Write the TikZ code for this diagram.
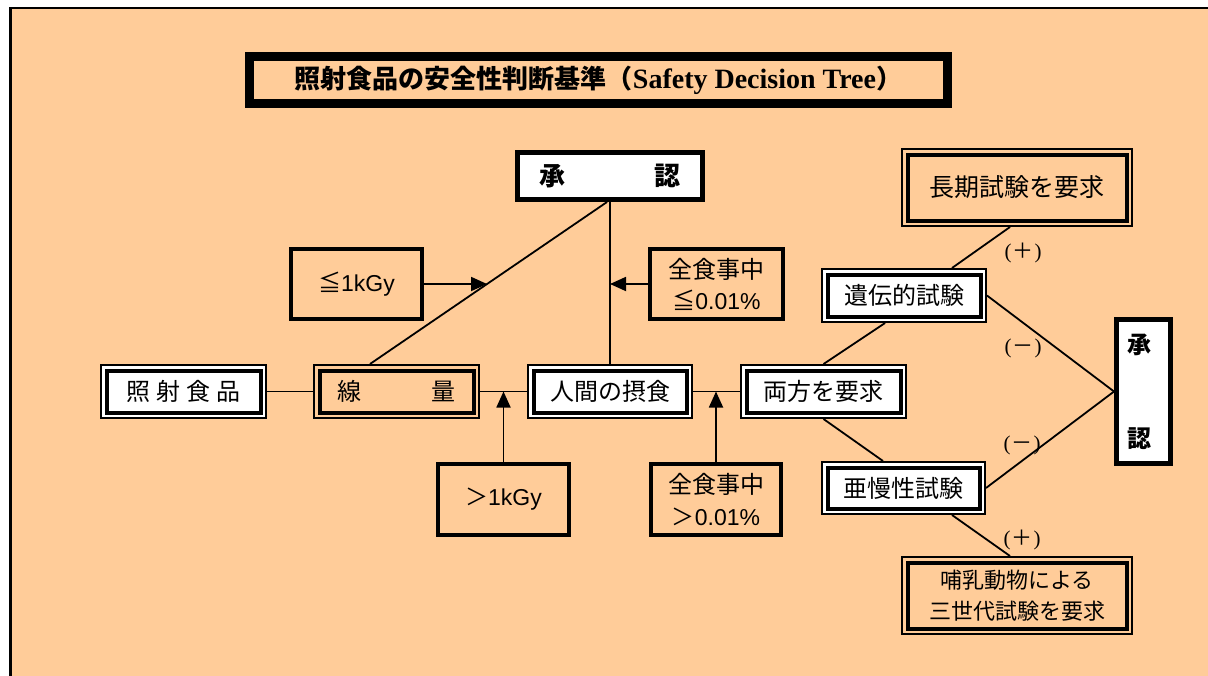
\documentclass[tikz,border=0pt]{standalone}
\usepackage{fontspec}
\setmainfont{Liberation Serif}
\newfontfamily\jp{Noto Sans CJK JP}
\newfontfamily\ar{Liberation Sans}
\usetikzlibrary{arrows.meta,calc}
\definecolor{bgor}{HTML}{FFCC99}
\newcommand\fsz[2]{\fontsize{#1}{#2}\selectfont}
\begin{document}
\begin{tikzpicture}[x=1pt,y=-1pt,
  dbl/.style={draw, line width=2pt, inner sep=0pt, align=center},
  thk/.style={draw, line width=4pt, inner sep=0pt, align=center, fill=bgor},
  conn/.style={line width=1.8pt},
  arr/.style={line width=1.8pt, -{Triangle[length=16pt,width=14pt]}},
  sign/.style={inner sep=0pt, font=\fsz{21}{24}}
]
\useasboundingbox (0,0) rectangle (1208,675);
% background
\fill[bgor] (10.5,8) rectangle (1215,680);
\draw[line width=2.5pt] (10.5,680) -- (10.5,8) -- (1215,8);

% title
\node[draw, line width=9pt, fill=bgor, inner sep=0pt, minimum width=698pt, minimum height=47pt] (title) at (598.5,80)
  {{\jp\bfseries\fsz{26}{30}照射食品の安全性判断基準（}{\bfseries\fsz{28}{30}Safety Decision Tree}{\jp\bfseries\fsz{26}{30}）}};

% double-bordered boxes
\node[dbl, fill=white, minimum width=165pt, minimum height=53pt, font=\jp\fsz{24}{28}] (shokuhin) at (183.5,391.5)
  {照\hspace{6pt}射\hspace{6pt}食\hspace{6pt}品};
\node[dbl, fill=bgor, minimum width=165pt, minimum height=53pt, font=\jp\fsz{24}{28}] (senryo) at (396.5,391.5)
  {線\hspace{71pt}量};
\node[dbl, fill=white, minimum width=164pt, minimum height=53pt, font=\jp\fsz{24}{28}] (ningen) at (610,391.5)
  {人間の摂食};
\node[dbl, fill=white, minimum width=165pt, minimum height=53pt, font=\jp\fsz{24}{28}] (ryoho) at (823.5,391.5)
  {両方を要求};
\node[dbl, fill=white, minimum width=164pt, minimum height=53pt, font=\jp\fsz{24}{28}] (iden) at (904,295.5)
  {遺伝的試験};
\node[dbl, fill=bgor, minimum width=230pt, minimum height=77pt, font=\jp\fsz{25}{28}] (chouki) at (1017,187.5)
  {\raisebox{-4pt}{長期試験を要求}};
\node[dbl, fill=white, minimum width=163pt, minimum height=52pt, font=\jp\fsz{24}{28}] (amansei) at (903.5,488)
  {亜慢性試験};
\node[dbl, fill=bgor, minimum width=230pt, minimum height=77pt, font=\jp\fsz{22}{31}] (honyu) at (1017,595.5)
  {哺乳動物による\\三世代試験を要求};
\foreach \n in {shokuhin,senryo,ningen,ryoho,iden,chouki,amansei,honyu}
  \draw[line width=4pt] ([shift={(6.5pt,-6.5pt)}]\n.north west) rectangle ([shift={(-6.5pt,6.5pt)}]\n.south east);

% thick single boxes
\node[thk, line width=5pt, fill=white, minimum width=185pt, minimum height=47pt, font=\jp\bfseries\fsz{26}{30}] (shonin1) at (610,176)
  {承\hspace{89pt}認};
\node[thk, line width=5pt, fill=white, minimum width=54pt, minimum height=144pt, font=\jp\bfseries\fsz{24}{94}] (shonin2) at (1143.5,391.5)
  {\hspace*{-8pt}承\\\hspace*{-8pt}認};
\node[thk, minimum width=131pt, minimum height=70pt, font=\fsz{23}{28}] (le1k) at (356.5,284)
  {{\jp ≦}{\ar 1kGy}};
\node[thk, minimum width=131pt, minimum height=71pt, font=\fsz{23}{28}] (gt1k) at (503.5,499.5)
  {{\jp ＞}{\ar 1kGy}};
\node[thk, minimum width=133pt, minimum height=70pt, font=\fsz{23}{31}] (le001) at (716.5,284)
  {{\jp\fsz{24}{31}全食事中}\\{\jp ≦}{\ar 0.01\%}};
\node[thk, minimum width=130pt, minimum height=71pt, font=\fsz{23}{32}] (gt001) at (716,499.5)
  {{\jp\fsz{24}{32}全食事中}\\{\jp ＞}{\ar 0.01\%}};

% connectors
\draw[conn] (shokuhin.east) -- (senryo.west);
\draw[conn] (senryo.east) -- (ningen.west);
\draw[conn] (ningen.east) -- (ryoho.west);
\draw[conn] (ningen.north) -- (shonin1.south);
\coordinate (dA) at ([xshift=-26.5pt]senryo.north);
\coordinate (dB) at ([xshift=-3pt]shonin1.south);
\draw[conn] (dA) -- (dB);
\coordinate (d1) at (intersection cs: first line={(dA)--(dB)}, second line={(le1k.east)--([xshift=100pt]le1k.east)});
\draw[arr] (le1k.east) -- (d1);
\draw[arr] (le001.west) -- (le001.west -| ningen.north);
\draw[arr] (gt1k.north) -- (gt1k.north |- senryo.east);
\draw[arr] (gt001.north) -- (gt001.north |- ningen.east);

\draw[conn] (ryoho.north) -- ([xshift=-19pt]iden.south);
\draw[conn] (ryoho.south) -- ([xshift=-20.5pt]amansei.north);
\draw[conn] ([xshift=-7pt]chouki.south) -- ([xshift=48pt]iden.north);
\draw[conn] (iden.east) -- (shonin2.west);
\draw[conn] (amansei.east) -- (shonin2.west);
\draw[conn] ([xshift=48.5pt]amansei.south) -- ([xshift=-7pt]honyu.north);

% signs
\node[sign] (s1) at (1023,253) {(\hspace{1pt}{\jp ＋}\hspace{1pt})};
\node[sign] (s2) at (1023,348) {(\hspace{1pt}{\jp －}\hspace{1pt})};
\node[sign] (s3) at (1022,445) {(\hspace{1pt}{\jp －}\hspace{1pt})};
\node[sign] (s4) at (1022,540) {(\hspace{1pt}{\jp ＋}\hspace{1pt})};
\end{tikzpicture}
\end{document}
